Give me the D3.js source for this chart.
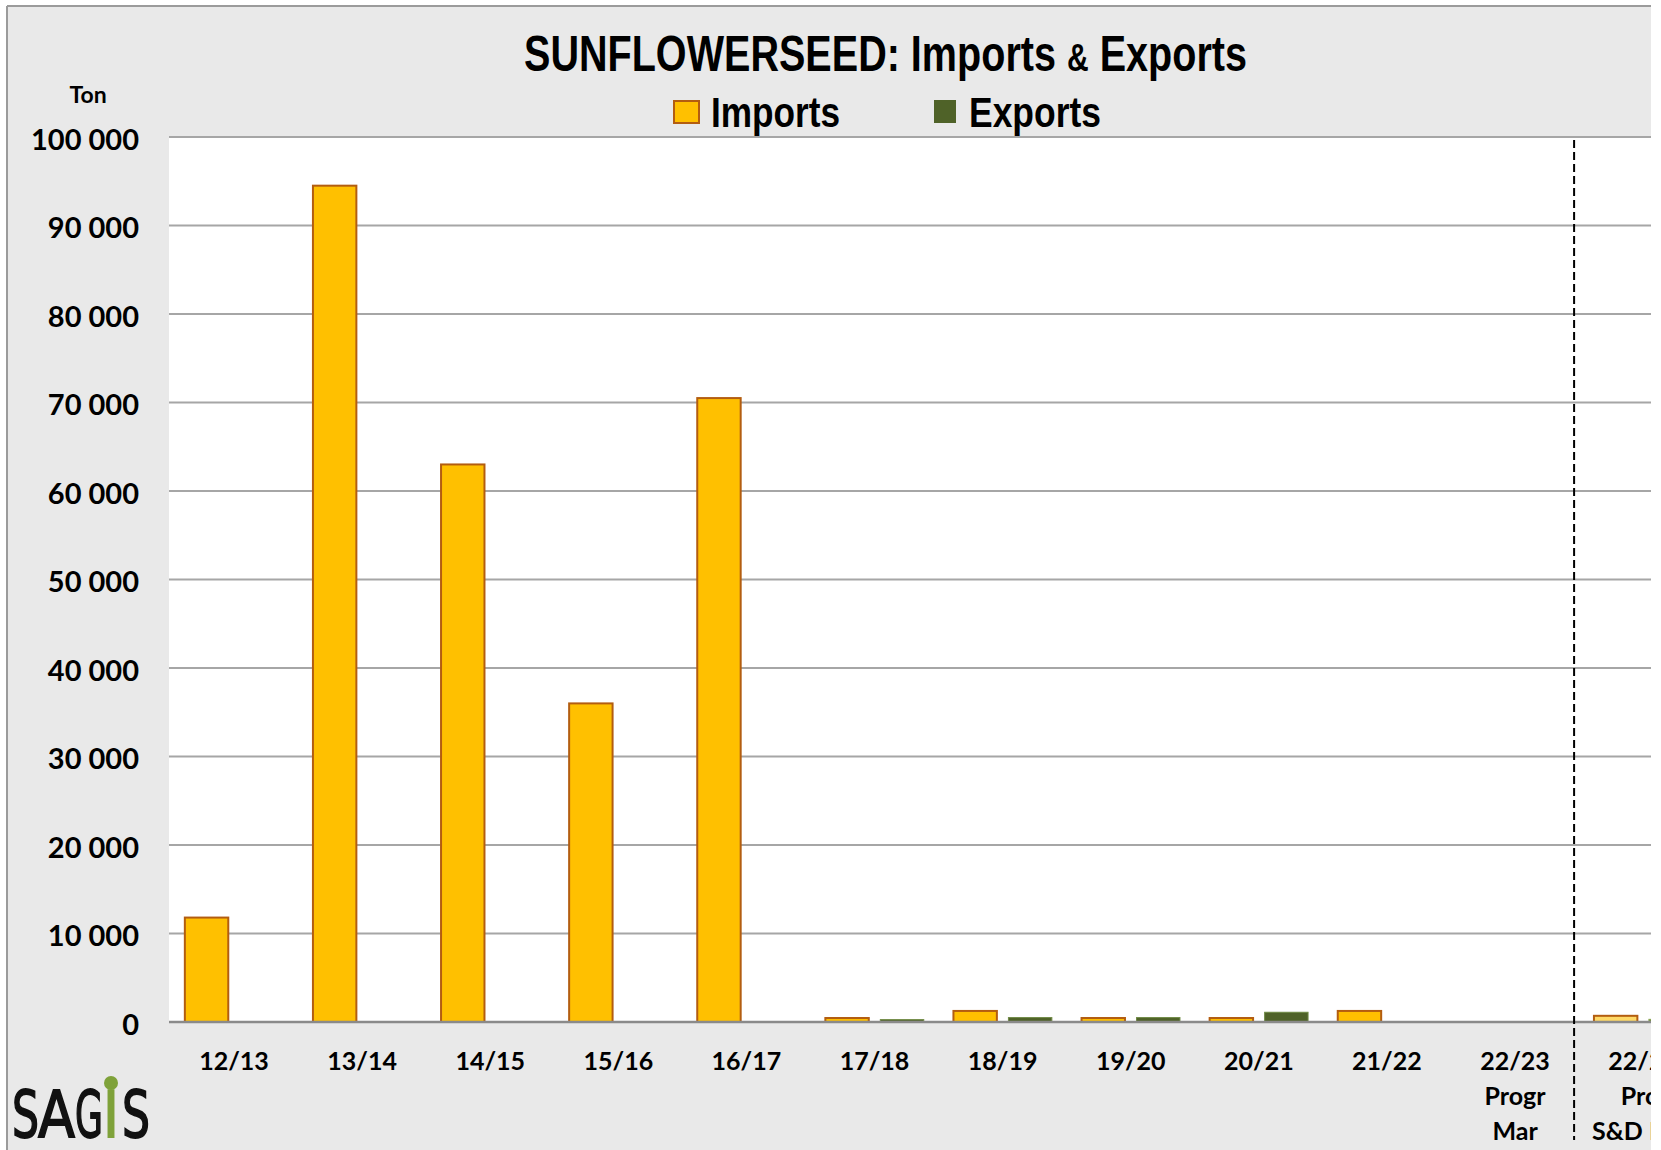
<!DOCTYPE html>
<html>
<head>
<meta charset="utf-8">
<script src="https://cdn.jsdelivr.net/npm/d3@7"></script>
<style>
  html, body { margin: 0; padding: 0; background: #ffffff; }
  svg { display: block; }
</style>
</head>
<body>
<svg id="chart" width="1661" height="1150"></svg>
<script>
// ---- data ----
const categories = ["12/13", "13/14", "14/15", "15/16", "16/17", "17/18", "18/19", "19/20", "20/21", "21/22", "22/23\nProgr\nMar", "22/23\nProj\nS&D Mar"];
const importsValues = [11800, 94500, 63000, 36000, 70500, 450, 1250, 450, 450, 1250, 0, 700];
const exportsValues = [0, 0, 0, 0, 0, 270, 500, 500, 1100, 0, 0, 300];
const projectedCategories = ["22/23\nProj\nS&D Mar"];
const seriesNames = ["Imports", "Exports"];
const yTickValues = [0, 10000, 20000, 30000, 40000, 50000, 60000, 70000, 80000, 90000, 100000];
const yTickLabels = ["0", "10 000", "20 000", "30 000", "40 000", "50 000", "60 000", "70 000", "80 000", "90 000", "100 000"];
const titleMain = "SUNFLOWERSEED: Imports ";
const titleAmp = "&";
const titleEnd = " Exports";
const unitLabel = "Ton";

// ---- layout ----
const W = 1661, H = 1150;
const clipRight = 1651;
const plotLeft = 169, plotTop = 137, plotBottom = 1022;
const step = 128.1;

const svg = d3.select("#chart");
const defs = svg.append("defs");
defs.append("clipPath").attr("id", "frameClip")
  .append("rect").attr("x", 0).attr("y", 0).attr("width", clipRight).attr("height", H);

const g = svg.append("g").attr("clip-path", "url(#frameClip)");

// chart area background + border
g.append("rect").attr("x", 7).attr("y", 6).attr("width", clipRight - 7).attr("height", H - 6).attr("fill", "#e9e9e9");
g.append("line").attr("x1", 7).attr("x2", clipRight).attr("y1", 6).attr("y2", 6).attr("stroke", "#9b9b9b").attr("stroke-width", 2);
g.append("line").attr("x1", 7).attr("x2", 7).attr("y1", 6).attr("y2", H).attr("stroke", "#9b9b9b").attr("stroke-width", 2);

// plot area
g.append("rect").attr("x", plotLeft).attr("y", plotTop).attr("width", clipRight - plotLeft).attr("height", plotBottom - plotTop).attr("fill", "#ffffff");

// scales
const x = d3.scaleBand().domain(categories).range([170, 170 + step * categories.length]).padding(0);
const xs = d3.scaleBand().domain(seriesNames).range([0, x.bandwidth()]).paddingInner(0.21).paddingOuter(0.27);
const y = d3.scaleLinear().domain([0, 100000]).range([plotBottom, plotTop]);

// gridlines
g.append("g").selectAll("line").data(yTickValues.filter(v => v > 0)).join("line")
  .attr("x1", plotLeft).attr("x2", clipRight)
  .attr("y1", d => y(d)).attr("y2", d => y(d))
  .attr("stroke", "#a6a6a6").attr("stroke-width", 2);

// y axis labels
const yAxis = d3.axisLeft(y).tickValues(yTickValues)
  .tickFormat((d, i) => yTickLabels[i]).tickSizeInner(0).tickSizeOuter(0).tickPadding(30);
const yg = g.append("g").attr("transform", `translate(${plotLeft},0)`).call(yAxis);
yg.select(".domain").remove();
yg.selectAll("text").attr("dy", "0.42em")
  .style("font-family", "Lato, 'Open Sans', sans-serif").style("font-weight", "bold")
  .style("font-size", "29px").attr("fill", "#000");

// unit label
g.append("text").attr("x", 88).attr("y", 103).attr("text-anchor", "middle")
  .style("font-family", "Lato, sans-serif").style("font-weight", "bold").style("font-size", "23px")
  .text(unitLabel);

// bars
const isProj = c => projectedCategories.includes(c);
const barData = [];
categories.forEach((c, i) => {
  barData.push({ cat: c, series: "Imports", value: importsValues[i] });
  barData.push({ cat: c, series: "Exports", value: exportsValues[i] });
});
const fillFor = d => d.series === "Imports" ? (isProj(d.cat) ? "#ffd966" : "#ffc000") : (isProj(d.cat) ? "#77933c" : "#4f6228");
const strokeFor = d => d.series === "Imports" ? "#b35d10" : (isProj(d.cat) ? "#8aa652" : "#6f8a44");

g.append("g").selectAll("rect").data(barData.filter(d => d.value > 0)).join("rect")
  .attr("x", d => x(d.cat) + xs(d.series))
  .attr("width", xs.bandwidth())
  .attr("y", d => y(d.value))
  .attr("height", d => y(0) - y(d.value))
  .attr("fill", fillFor)
  .attr("stroke", strokeFor)
  .attr("stroke-width", d => d.series === "Imports" ? 2 : 1);

// baseline
g.append("line").attr("x1", plotLeft).attr("x2", clipRight).attr("y1", y(0)).attr("y2", y(0))
  .attr("stroke", "#8a8a8a").attr("stroke-width", 2.5);

// x axis labels
const xAxis = d3.axisBottom(x).tickSizeInner(0).tickSizeOuter(0).tickFormat(() => "");
const xg = g.append("g").attr("transform", `translate(0,${plotBottom})`).call(xAxis);
xg.select(".domain").remove();
xg.selectAll(".tick").each(function (d) {
  const t = d3.select(this).select("text");
  t.attr("y", 48).attr("dy", 0)
    .style("font-family", "Lato, 'Open Sans', sans-serif").style("font-weight", "bold")
    .style("font-size", "25px").attr("fill", "#000");
  d.split("\n").forEach((line, k) => {
    t.append("tspan").attr("x", 0).attr("y", 48 + k * 35).text(line);
  });
});

// dashed separator before projection
const sepX = x(projectedCategories[0]) - 5;
g.append("line").attr("x1", sepX).attr("x2", sepX).attr("y1", 140).attr("y2", 1140)
  .attr("stroke", "#000").attr("stroke-width", 2).attr("stroke-dasharray", "8,4");

// title
const condensed = "'Liberation Sans Narrow', 'Arial Narrow', 'Liberation Sans', Arial, sans-serif";
const title = g.append("text").attr("x", 524).attr("y", 71)
  .attr("textLength", 723).attr("lengthAdjust", "spacingAndGlyphs")
  .style("font-family", condensed).style("font-weight", "bold").style("font-size", "50px");
title.append("tspan").text(titleMain);
title.append("tspan").style("font-size", "38px").text(titleAmp);
title.append("tspan").text(titleEnd);

// legend
const legendItems = [
  { name: seriesNames[0], rx: 674, ry: 101, rw: 25, rh: 22, fill: "#ffc000", stroke: "#b35d10", sw: 2, tx: 711, tl: 129 },
  { name: seriesNames[1], rx: 934, ry: 100, rw: 22, rh: 23, fill: "#4f6228", stroke: "none", sw: 0, tx: 969, tl: 132 }
];
const lg = g.append("g");
legendItems.forEach(it => {
  lg.append("rect").attr("x", it.rx).attr("y", it.ry).attr("width", it.rw).attr("height", it.rh)
    .attr("fill", it.fill).attr("stroke", it.stroke).attr("stroke-width", it.sw);
  lg.append("text").attr("x", it.tx).attr("y", 127)
    .attr("textLength", it.tl).attr("lengthAdjust", "spacingAndGlyphs")
    .style("font-family", condensed).style("font-weight", "bold").style("font-size", "43px")
    .text(it.name);
});

// SAGIS logo
const logo = g.append("g");
const logoLetters = [
  { ch: "S", x: 12, w: 27, c: "#111" },
  { ch: "A", x: 38, w: 37, c: "#111" },
  { ch: "G", x: 75, w: 28, c: "#111" },
  { ch: "I", x: 103, w: 16, c: "#7fa23a" },
  { ch: "S", x: 122, w: 28, c: "#111" }
];
logoLetters.forEach(l => {
  logo.append("text").attr("x", l.x).attr("y", 1137)
    .attr("textLength", l.w).attr("lengthAdjust", "spacingAndGlyphs")
    .style("font-family", "'DejaVu Sans', sans-serif").style("font-size", "64px")
    .attr("fill", l.c).attr("stroke", l.c).attr("stroke-width", 1.8).text(l.ch);
});
logo.append("circle").attr("cx", 111).attr("cy", 1083).attr("r", 7).attr("fill", "#7fa23a");
</script>
</body>
</html>
